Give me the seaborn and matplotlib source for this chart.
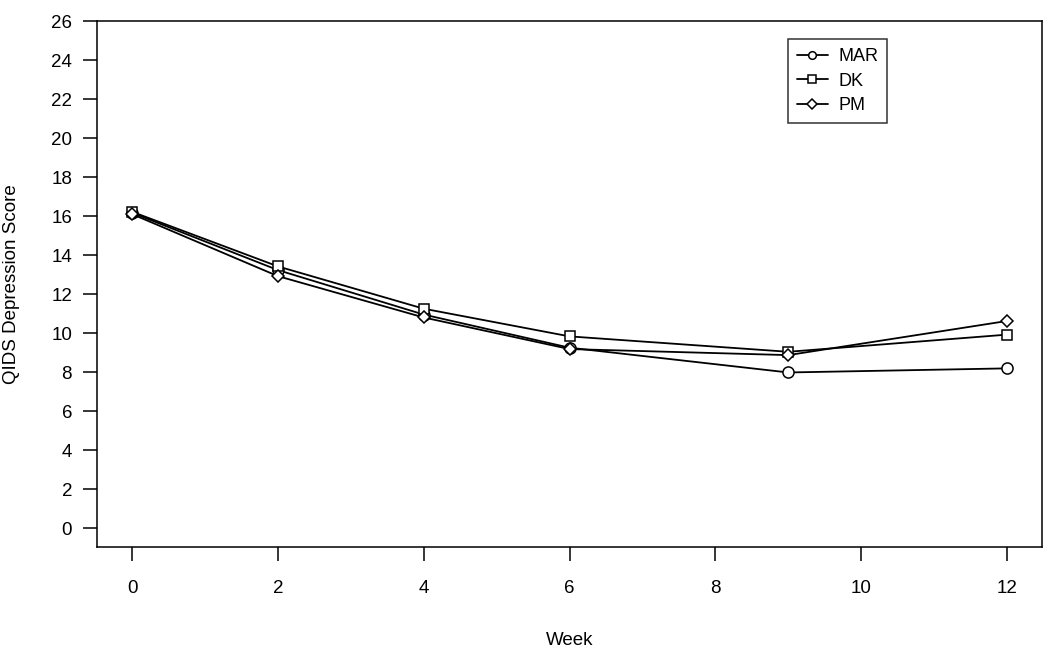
import pandas as pd
import matplotlib
matplotlib.use("Agg")
import matplotlib.pyplot as plt
import seaborn as sns

# Values
weeks = [0, 2, 4, 6, 9, 12]
mar = [16.17, 13.23, 10.95, 9.25, 7.98, 8.19]
dk = [16.22, 13.42, 11.25, 9.83, 9.04, 9.92]
pm = [16.10, 12.92, 10.80, 9.18, 8.87, 10.62]
methods = ["MAR", "DK", "PM"]
x_ticks = [0, 2, 4, 6, 8, 10, 12]
y_ticks = list(range(0, 27, 2))

df = pd.DataFrame({
    "Week": weeks * 3,
    "Score": mar + dk + pm,
    "Method": ["MAR"] * 6 + ["DK"] * 6 + ["PM"] * 6,
})

sns.set_style("white")
plt.rcParams["font.family"] = ["Liberation Sans", "DejaVu Sans"]
plt.rcParams["text.color"] = "black"
plt.rcParams["axes.labelcolor"] = "black"
plt.rcParams["xtick.color"] = "black"
plt.rcParams["ytick.color"] = "black"

fig = plt.figure(figsize=(10.5, 6.57), dpi=100)
ax = fig.add_axes([0.0924, 0.1674, 0.9000, 0.8006])

marker_map = {"MAR": "o", "DK": "s", "PM": "D"}
sns.lineplot(data=df, x="Week", y="Score", style="Method", style_order=methods,
             markers=marker_map, dashes=False, color="black", ax=ax,
             linewidth=1.3, markersize=8, markerfacecolor="white",
             markeredgecolor="black", markeredgewidth=1.1)

# make diamond and square sizes closer to the original
for line in ax.get_lines():
    if line.get_marker() in ("D", "s"):
        line.set_markersize(6.5)

ax.set_xlim(-0.48, 12.48)
ax.set_ylim(-0.97, 26.0)
ax.set_xticks(x_ticks)
ax.set_yticks(y_ticks)
ax.tick_params(axis="both", direction="out", length=10, width=1.1,
               color="black", labelcolor="black", labelsize=13.5,
               bottom=True, left=True)
ax.tick_params(axis="x", pad=14)
ax.tick_params(axis="y", pad=8)
ax.set_xlabel("Week", fontsize=13.5, labelpad=25, color="black")
ax.set_ylabel("QIDS Depression Score", fontsize=13.5, labelpad=22, color="black")
for s in ax.spines.values():
    s.set_color("black")
    s.set_linewidth(1.1)

handles, labels = ax.get_legend_handles_labels()
for h in handles:
    h.set_markersize(5.5)
leg = ax.legend(handles, labels, loc="upper left", bbox_to_anchor=(0.731, 0.965),
                frameon=True, fancybox=False, fontsize=13, handlelength=1.7,
                borderpad=0.5, labelspacing=0.4, handletextpad=0.6,
                borderaxespad=0)
leg.get_frame().set_edgecolor("black")
leg.get_frame().set_linewidth(1.1)
for t in leg.get_texts():
    t.set_color("black")

fig.savefig("out.png", dpi=100)
